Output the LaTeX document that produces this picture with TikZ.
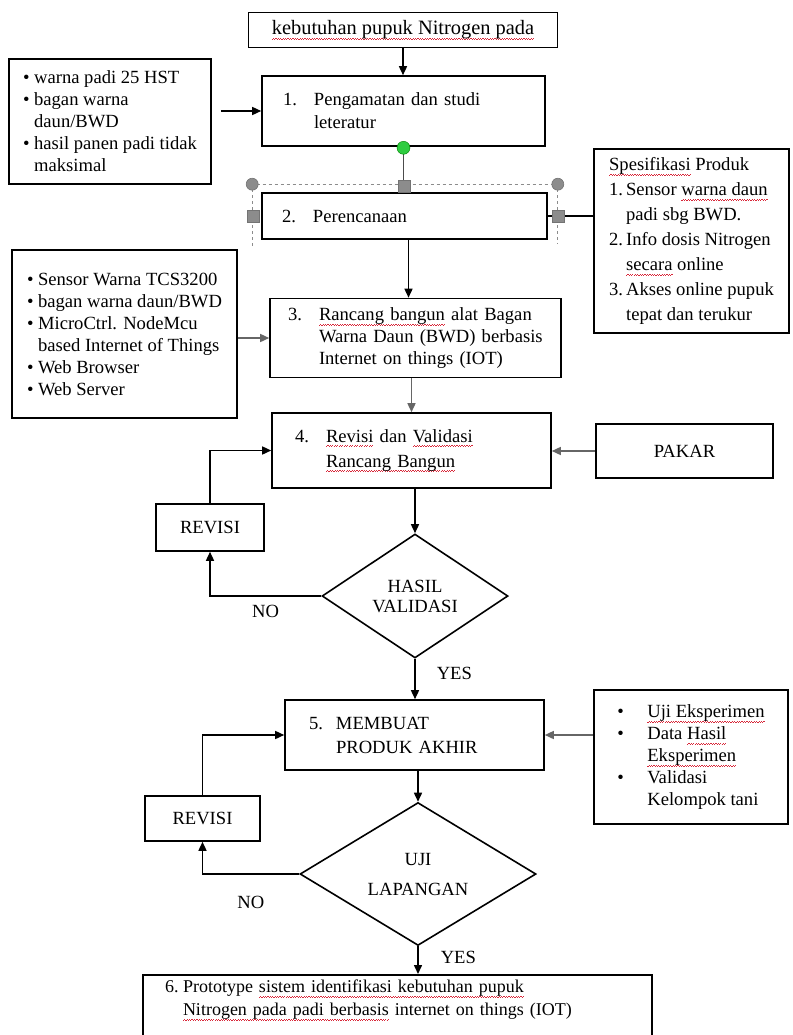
\documentclass[tikz,border=0pt]{standalone}
\usepackage{fontspec}
\setmainfont{Liberation Serif}
\usetikzlibrary{arrows.meta,shapes.geometric}
\definecolor{splred}{HTML}{D8283A}
\definecolor{handlegray}{HTML}{8C8C8C}
\definecolor{dotgreen}{HTML}{2ECC40}
\newsavebox{\splbox}
\newcommand{\splwave}{\hbox{\rule[-4.8pt]{1.2pt}{0.7pt}\rule[-4.1pt]{1.2pt}{0.7pt}}}
\newcommand{\spl}[1]{\sbox{\splbox}{#1}\rlap{\textcolor{splred}{\hbox to\wd\splbox{\xleaders\splwave\hfil}}}\usebox{\splbox}}
\newcommand{\nr}[2][31pt]{\makebox[#1][l]{#2}}
\newcommand{\bul}[1][11pt]{\makebox[#1][l]{\textbullet}}
\newcommand{\hang}[1][11pt]{\makebox[#1]{}}

\begin{document}
\begin{tikzpicture}[x=1pt,y=-1pt,
    font=\fontsize{18.6}{22}\selectfont,
    stepbox/.style={draw, line width=1.6pt, align=left, inner ysep=4pt},
    sidebox/.style={draw, line width=1.6pt, align=left},
    plainbox/.style={draw, line width=1.6pt, align=center},
    decision/.style={draw, line width=1.6pt, diamond, align=center, inner sep=0pt},
    arr/.style={-{Triangle[length=9pt,width=8pt]}, line width=1.5pt},
    grayarr/.style={arr, draw=black!60},
    link/.style={line width=1.2pt},
    answer/.style={inner sep=0pt},
    handle/.style={draw=black!55, fill=handlegray, line width=0.6pt}]
    \useasboundingbox (0,0) rectangle (792,1035);

    % main steps
    \node[plainbox, minimum width=309pt, minimum height=35pt, font=\fontsize{20.4}{24}\selectfont] (kebutuhan) at (403,30) {\spl{kebutuhan pupuk Nitrogen pada}};
    \node[stepbox, text width=241pt, inner xsep=21pt, minimum height=70pt, font=\fontsize{18.6}{23}\selectfont] (pengamatan) at (403.5,111) {\nr{1.}Pengamatan dan studi\\\nr{}leteratur};
    \node[stepbox, text width=245pt, inner xsep=20pt, minimum height=46pt] (perencanaan) at (404.5,216) {\nr{2.}Perencanaan};
    \node[stepbox, text width=255pt, inner xsep=18pt, minimum height=79pt] (rancang) at (415.5,338) {\nr{3.}\spl{Rancang bangun} alat Bagan\\\nr{}Warna Daun (BWD) berbasis\\\nr{}Internet on things (IOT)};
    \node[stepbox, text width=233pt, inner xsep=23pt, minimum height=75pt, font=\fontsize{18.6}{25}\selectfont] (validasi) at (411.5,450.5) {\nr{4.}\spl{Revisi} dan \spl{Validasi}\\\nr{}\spl{Rancang Bangun}};
    \node[decision, minimum width=186pt, minimum height=124pt, font=\fontsize{18.6}{20}\selectfont] (hasil) at (415,596) {HASIL\\VALIDASI};
    \node[stepbox, text width=211pt, inner xsep=24pt, minimum height=70pt, font=\fontsize{18.6}{24}\selectfont] (produk) at (414.5,735) {\nr[27pt]{5.}MEMBUAT\\\nr[27pt]{}PRODUK AKHIR};
    \node[decision, minimum width=236pt, minimum height=122pt, font=\fontsize{18.6}{30}\selectfont] (lapangan) at (418,874) {UJI\\LAPANGAN};
    \node[stepbox, anchor=north, text width=465pt, inner xsep=22pt, inner ysep=5pt, text depth=60pt, font=\fontsize{18}{23}\selectfont] (prototype) at (397.5,974) {\nr[18pt]{6.}Prototype \spl{sistem identifikasi kebutuhan pupuk}\\\nr[18pt]{}\spl{Nitrogen pada padi berbasis} internet on things (IOT)};

    % side boxes
    \node[sidebox, minimum width=202pt, minimum height=125pt] (masalah) at (110,121.5) {\bul warna padi 25 HST\\\bul bagan warna\\\hang daun/BWD\\\bul hasil panen padi tidak\\\hang maksimal};
    \node[sidebox, minimum width=195pt, minimum height=184pt, font=\fontsize{18.6}{25}\selectfont] (spesifikasi) at (691.5,241) {\spl{Spesifikasi} Produk\\\nr[17pt]{1.}Sensor \spl{warna daun}\\\nr[17pt]{}padi sbg BWD.\\\nr[17pt]{2.}Info dosis Nitrogen\\\nr[17pt]{}\spl{secara} online\\\nr[17pt]{3.}Akses online pupuk\\\nr[17pt]{}tepat dan terukur};
    \node[sidebox, minimum width=225pt, minimum height=168pt] (komponen) at (124.5,334) {\bul Sensor Warna TCS3200\\\bul bagan warna daun/BWD\\\bul MicroCtrl. NodeMcu\\\hang based Internet of Things\\\bul Web Browser\\\bul Web Server};
    \node[plainbox, minimum width=177pt, minimum height=54pt] (pakar) at (684.5,451) {PAKAR};
    \node[plainbox, minimum width=108pt, minimum height=47pt] (revisiA) at (210,527.5) {REVISI};
    \node[sidebox, minimum width=194pt, minimum height=134pt] (eksperimen) at (691,757) {\bul[30pt]\spl{Uji Eksperimen}\\\bul[30pt]Data \spl{Hasil}\\\hang[30pt]\spl{Eksperimen}\\\bul[30pt]Validasi\\\hang[30pt]Kelompok tani};
    \node[plainbox, minimum width=115pt, minimum height=45pt] (revisiB) at (202.5,818.5) {REVISI};

    % connectors
    \draw[arr] (kebutuhan.south) -- (kebutuhan.south |- pengamatan.north);
    \draw[arr] ([xshift=9pt]masalah.east |- pengamatan.west) -- (pengamatan.west);
    \draw[link, draw=black!70] (pengamatan.south) -- (pengamatan.south |- perencanaan.north);
    \draw[link] (perencanaan.east) -- (perencanaan.east -| spesifikasi.west);
    \draw[arr] ([xshift=4pt]perencanaan.south) -- ([xshift=4pt]perencanaan.south |- rancang.north);
    \draw[grayarr] (komponen.east |- rancang.west) -- (rancang.west);
    \draw[grayarr] (validasi.north |- rancang.south) -- (validasi.north);
    \draw[grayarr] (pakar.west) -- (pakar.west -| validasi.east);
    \draw[arr] (hasil.north |- validasi.south) -- (hasil.north);
    \draw[arr] (hasil.west) -| node[answer, pos=0.25, below=8pt] (tidakA) {NO} (revisiA.south);
    \draw[arr] (revisiA.north) |- (validasi.west);
    \draw[arr] (hasil.south) -- node[answer, pos=0.35, right=21pt] (yaA) {YES} (hasil.south |- produk.north);
    \draw[grayarr] (eksperimen.west |- produk.east) -- (produk.east);
    \draw[arr] (lapangan.north |- produk.south) -- (lapangan.north);
    \draw[arr] (lapangan.west) -| node[answer, pos=0.25, below=21pt] (tidakB) {NO} (revisiB.south);
    \draw[arr] (revisiB.north) |- (produk.west);
    \draw[arr] (lapangan.south) -- node[answer, pos=0.4, right=22pt] (yaB) {YES} (lapangan.south |- prototype.north);

    % selection handles round step 2
    \draw[handlegray, dashed, line width=1pt] ([xshift=-9pt,yshift=-6pt]perencanaan.south west) -- ([xshift=-9pt,yshift=8pt]perencanaan.north west) -- ([xshift=10pt,yshift=8pt]perencanaan.north east) -- ([xshift=10pt,yshift=-4pt]perencanaan.south east);
    \filldraw[handle] ([xshift=-9pt,yshift=8pt]perencanaan.north west) circle (6pt);
    \filldraw[handle] ([xshift=10pt,yshift=8pt]perencanaan.north east) circle (6pt);
    \filldraw[handle] ([yshift=6pt]perencanaan.north) +(-6pt,-6pt) rectangle +(6pt,6pt);
    \filldraw[handle] ([xshift=-8pt]perencanaan.west) +(-6pt,-6pt) rectangle +(6pt,6pt);
    \filldraw[handle] ([xshift=10pt]perencanaan.east) +(-6pt,-6pt) rectangle +(6pt,6pt);
    \filldraw[draw=green!50!black, fill=dotgreen] ([yshift=-1pt]pengamatan.south) circle (6.5pt);
\end{tikzpicture}
\end{document}
